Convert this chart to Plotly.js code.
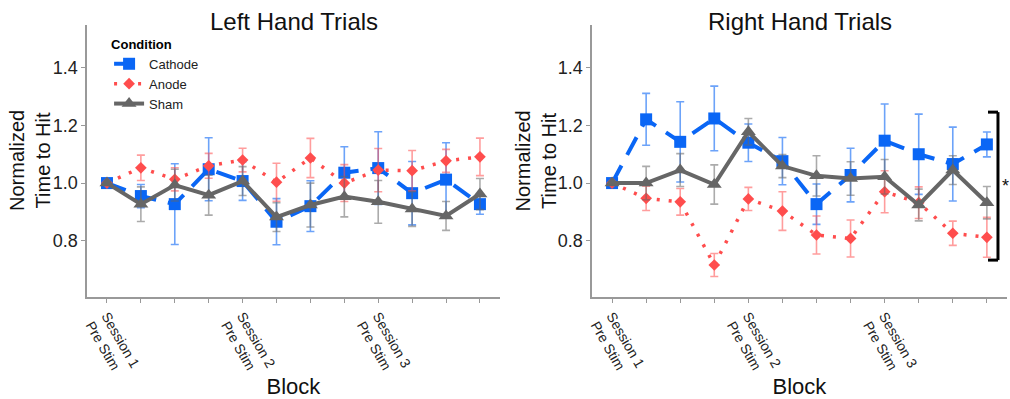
<!DOCTYPE html>
<html><head><meta charset="utf-8">
<script src="https://cdn.plot.ly/plotly-3.0.1.min.js"></script>
<style>html,body{margin:0;padding:0;background:#fff}#chart{width:1010px;height:399px}</style>
</head><body><div id="chart"></div>
<script>
const blocks = [1,2,3,4,5,6,7,8,9,10,11,12];
const tickLabels = ['Session 1<br>Pre Stim','','','','Session 2<br>Pre Stim','','','','Session 3<br>Pre Stim','','',''];

// Left hand trials
const leftCathode    = [1.00,0.955,0.927,1.048,1.007,0.866,0.920,1.036,1.052,0.965,1.012,0.927];
const leftCathodeErr = [0.005,0.040,0.140,0.109,0.067,0.080,0.088,0.090,0.126,0.110,0.128,0.035];
const leftAnode      = [1.00,1.053,1.013,1.060,1.080,1.003,1.087,1.000,1.045,1.043,1.077,1.091];
const leftAnodeErr   = [0.004,0.044,0.040,0.043,0.041,0.066,0.068,0.064,0.075,0.070,0.040,0.065];
const leftSham       = [1.00,0.927,0.993,0.958,1.007,0.882,0.924,0.953,0.935,0.910,0.886,0.962];
const leftShamErr    = [0.004,0.060,0.055,0.069,0.050,0.050,0.076,0.070,0.074,0.060,0.050,0.054];

// Right hand trials
const rightCathode    = [1.00,1.221,1.143,1.224,1.140,1.076,0.927,1.028,1.147,1.100,1.066,1.134];
const rightCathodeErr = [0.005,0.090,0.139,0.112,0.065,0.082,0.070,0.093,0.127,0.139,0.128,0.043];
const rightAnode      = [1.00,0.947,0.935,0.716,0.945,0.903,0.820,0.808,0.970,0.932,0.826,0.812];
const rightAnodeErr   = [0.004,0.042,0.046,0.040,0.040,0.067,0.066,0.064,0.073,0.055,0.042,0.069];
const rightSham       = [1.00,1.000,1.045,0.995,1.178,1.059,1.025,1.016,1.022,0.924,1.045,0.932];
const rightShamErr    = [0.004,0.058,0.057,0.068,0.046,0.040,0.070,0.058,0.060,0.055,0.050,0.056];

const conditions = ['Cathode','Anode','Sham'];
const colors = {Cathode:'#0a66f5', Anode:'#ff4d4d', Sham:'#666666'};
const errColors = {Cathode:'rgba(10,102,245,0.6)', Anode:'rgba(255,77,77,0.55)', Sham:'rgba(102,102,102,0.55)'};
const lineDash = {Cathode:'20px,12px', Anode:'3px,9px', Sham:'solid'};
const lineWidth = {Cathode:4, Anode:3.5, Sham:4};
const symbols = {Cathode:'square', Anode:'diamond', Sham:'triangle-up'};
const sizes = {Cathode:12, Anode:9, Sham:13};

const panels = [
  {xa:'x', ya:'y', data:{Cathode:[leftCathode,leftCathodeErr],Anode:[leftAnode,leftAnodeErr],Sham:[leftSham,leftShamErr]}, legend:true},
  {xa:'x2', ya:'y2', data:{Cathode:[rightCathode,rightCathodeErr],Anode:[rightAnode,rightAnodeErr],Sham:[rightSham,rightShamErr]}, legend:false}
];

const traces = [];
panels.forEach(p => {
  conditions.forEach(c => {
    traces.push({
      type:'scatter', mode:'lines+markers', name:c, legendgroup:c, showlegend:p.legend,
      x:blocks, y:p.data[c][0], xaxis:p.xa, yaxis:p.ya,
      line:{color:colors[c], width:lineWidth[c], dash:lineDash[c]},
      marker:{symbol:symbols[c], size:sizes[c], color:colors[c]},
      error_y:{type:'data', array:p.data[c][1], visible:true, color:errColors[c], thickness:1.6, width:4}
    });
  });
});

const FONT = 'Liberation Sans, Arial, sans-serif';
const yDomain = [0.2556, 0.9373];
const yRange = [0.605, 1.548];
function xaxis(domain, anchor){
  return {domain:domain, anchor:anchor, range:[0.41,12.59], tickmode:'array', tickvals:blocks, ticktext:tickLabels,
    tickangle:60, tickfont:{family:FONT, size:14, color:'#222'},
    ticks:'outside', ticklen:4, tickcolor:'#999', showline:true, linecolor:'#999', linewidth:1.5,
    showgrid:false, zeroline:false, automargin:false,
    title:{text:'Block', font:{family:FONT, size:22, color:'#111'}, standoff:10}};
}
function yaxis(anchor){
  return {domain:yDomain, anchor:anchor, range:yRange, tickvals:[0.8,1.0,1.2,1.4], ticktext:['0.8','1.0','1.2','1.4'],
    tickfont:{family:FONT, size:18, color:'#222'}, ticks:'outside', ticklen:4, tickcolor:'#999', showline:true, linecolor:'#999', linewidth:1.5,
    showgrid:false, zeroline:false, automargin:false};
}

const titleFont = {family:FONT, size:24, color:'#111'};
const yTitleFont = {family:FONT, size:20, color:'#111'};
const layout = {
  width:1010, height:399, margin:{l:0,r:0,t:0,b:0},
  paper_bgcolor:'#fff', plot_bgcolor:'#fff', showlegend:true,
  xaxis:xaxis([0.0861,0.4950],'y'), yaxis:yaxis('x'),
  xaxis2:xaxis([0.5861,0.9970],'y2'), yaxis2:yaxis('x2'),
  legend:{x:0.108, y:0.92, xanchor:'left', yanchor:'top', bgcolor:'rgba(0,0,0,0)', itemwidth:30,
    title:{text:'<b>Condition</b>', font:{family:FONT, size:13, color:'#000'}},
    font:{family:FONT, size:13, color:'#222'}, tracegroupgap:0},
  annotations:[
    {text:'Left Hand Trials', xref:'paper', yref:'paper', x:0.2906, y:0.947, xanchor:'center', yanchor:'middle', showarrow:false, font:titleFont},
    {text:'Right Hand Trials', xref:'paper', yref:'paper', x:0.7916, y:0.947, xanchor:'center', yanchor:'middle', showarrow:false, font:titleFont},
    {text:'Normalized<br>Time to Hit', xref:'paper', yref:'paper', x:30/1010, y:(399-161)/399, xanchor:'center', yanchor:'middle',
      textangle:-90, showarrow:false, font:yTitleFont},
    {text:'Normalized<br>Time to Hit', xref:'paper', yref:'paper', x:535.5/1010, y:(399-161)/399, xanchor:'center', yanchor:'middle',
      textangle:-90, showarrow:false, font:yTitleFont},
    {text:'*', xref:'paper', yref:'y2', x:1.0, y:0.99, xanchor:'right', yanchor:'middle', showarrow:false, borderpad:0,
      font:{family:FONT, size:18, color:'#111'}}
  ],
  shapes:[
    {type:'line', xref:'paper', yref:'y2', x0:0.9881, x1:0.9881, y0:0.733, y1:1.246, line:{color:'#000', width:3}},
    {type:'line', xref:'paper', yref:'y2', x0:0.9782, x1:0.9881, y0:1.246, y1:1.246, line:{color:'#000', width:3}},
    {type:'line', xref:'paper', yref:'y2', x0:0.9782, x1:0.9881, y0:0.733, y1:0.733, line:{color:'#000', width:3}}
  ]
};

Plotly.newPlot('chart', traces, layout, {displayModeBar:false, staticPlot:true});
</script>
</body></html>
